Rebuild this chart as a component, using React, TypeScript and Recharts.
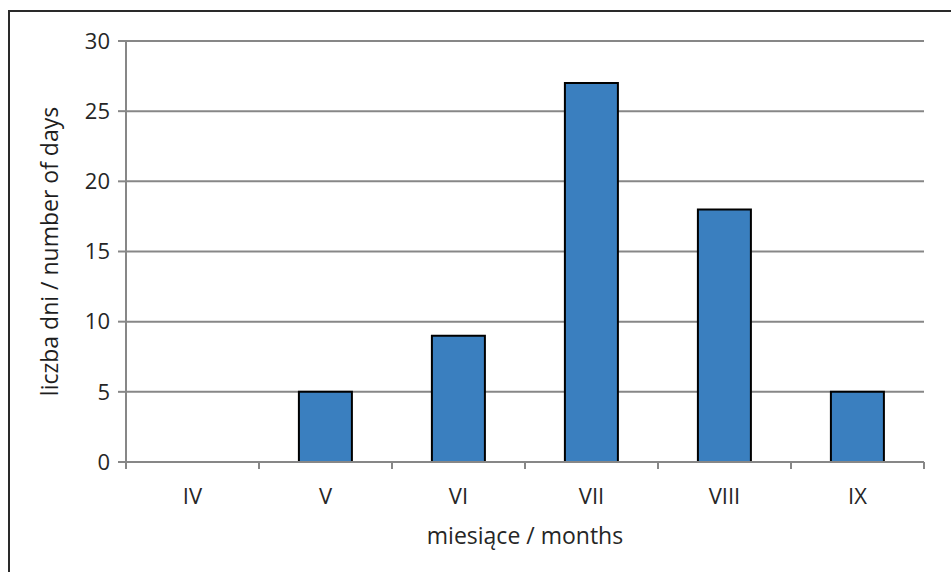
import { BarChart, Bar, XAxis, YAxis, CartesianGrid, Label } from 'recharts'

const MONTHS = ['IV', 'V', 'VI', 'VII', 'VIII', 'IX']
const DAYS = [0, 5, 9, 27, 18, 5]
const Y_TICKS = [0, 5, 10, 15, 20, 25, 30]

const data = MONTHS.map((m, i) => ({ month: m, days: DAYS[i] }))

const W = 951
const H = 572
const M = { top: 41, right: 27, bottom: 80, left: 66 }
const Y_AXIS_W = 60
const BAND = (W - M.left - M.right - Y_AXIS_W) / MONTHS.length
const AXIS_GREY = '#878787'
const FONT = '"Open Sans", sans-serif'

function MonthTick(props: any) {
  const { x, y, payload, index } = props
  const last = index === MONTHS.length - 1
  return (
    <g>
      <line x1={x - BAND / 2} x2={x - BAND / 2} y1={y} y2={y + 7} stroke={AXIS_GREY} strokeWidth={2} />
      {last && <line x1={x + BAND / 2} x2={x + BAND / 2} y1={y} y2={y + 7} stroke={AXIS_GREY} strokeWidth={2} />}
      <text x={x} y={y + 42} textAnchor="middle" fontSize={22} fill="#262626" fontFamily={FONT}>
        {payload.value}
      </text>
    </g>
  )
}

export default function App() {
  return (
    <div style={{ position: 'fixed', left: 0, top: 0, width: W, height: H, overflow: 'hidden', background: '#fff' }}>
      <div style={{ position: 'absolute', left: 8, top: 10, width: 1000, height: 700, border: '2px solid #2a2a2a' }} />
      <div style={{ position: 'absolute', left: 0, top: 0 }}>
        <BarChart width={W} height={H} data={data} margin={M} barCategoryGap="30%">
          <CartesianGrid vertical={false} stroke={AXIS_GREY} strokeWidth={2} />
          <XAxis
            dataKey="month"
            height={30}
            tickSize={0}
            tickMargin={0}
            tickLine={false}
            axisLine={{ stroke: AXIS_GREY, strokeWidth: 2 }}
            tick={<MonthTick />}
            interval={0}
          >
            <Label value="miesiące / months" position="insideBottom" offset={-52}
              style={{ fontSize: 23, fill: '#262626', fontFamily: FONT }} />
          </XAxis>
          <YAxis
            width={Y_AXIS_W}
            domain={[0, 30]}
            ticks={Y_TICKS}
            tickSize={8}
            tickMargin={8}
            tickLine={{ stroke: AXIS_GREY, strokeWidth: 2 }}
            axisLine={{ stroke: AXIS_GREY, strokeWidth: 2 }}
            tick={{ fontSize: 22, fill: '#262626', fontFamily: FONT }}
          >
            <Label value="liczba dni / number of days" angle={-90} position="insideLeft" offset={-16}
              style={{ fontSize: 23, fill: '#1e1e1e', fontFamily: FONT, textAnchor: 'middle' }} />
          </YAxis>
          <Bar dataKey="days" fill="#3A7FBF" stroke="#000" strokeWidth={2} isAnimationActive={false} />
        </BarChart>
      </div>
    </div>
  )
}
